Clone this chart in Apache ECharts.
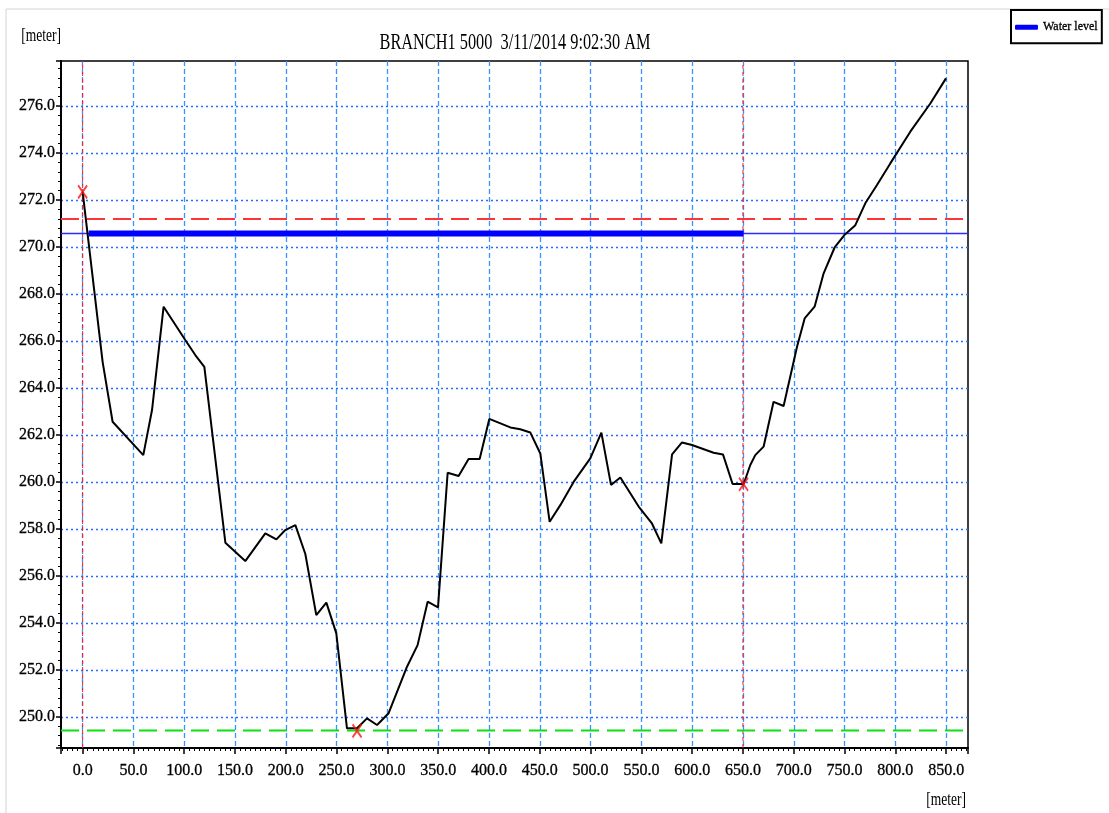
<!DOCTYPE html>
<html>
<head>
<meta charset="utf-8">
<title>BRANCH1 5000</title>
<script src="https://cdn.jsdelivr.net/npm/echarts@6/dist/echarts.min.js"></script>
<style>
    html, body { margin: 0; padding: 0; background: #fff; }
    #main { width: 1109px; height: 813px; }
</style>
</head>
<body>
<div id="main"></div>
<script>
// cross section, chainage [meter] / bed level [meter]
var chainage = [0, 19.7, 29.5, 59.7, 68.3, 79.7, 101, 110.9, 119.8, 140.5,
    160.1, 179.8, 190.7, 199.5, 209.4, 219.2, 230, 239.9, 249.7, 260.2,
    270.1, 279.9, 289.8, 301.2, 319.3, 329.7, 339.6, 349.8, 359.3, 370.1,
    379.9, 390.8, 400.3, 421, 430.8, 440.7, 450.5, 459.7, 470.2, 483.3,
    499.7, 510.6, 520.1, 529.3, 547.3, 560.4, 569.6, 580.2, 590, 599.8,
    621.1, 630.3, 639.8, 647.4, 650.6, 657.2, 662.1, 670.3, 680.1, 690,
    703.2, 710.7, 720.5, 729.4, 740.2, 749.8, 760.6, 770.4, 781.9, 795,
    814.7, 834.4, 849.8];
var elevation = [272.35, 265.1, 262.56, 261.14, 263.06, 267.46, 266.04, 265.4, 264.9, 257.41,
    256.63, 257.81, 257.55, 257.95, 258.16, 256.93, 254.33, 254.86, 253.55, 249.51,
    249.51, 249.93, 249.65, 250.15, 252.13, 253.05, 254.9, 254.66, 260.39, 260.25,
    260.97, 260.97, 262.68, 262.32, 262.24, 262.1, 261.21, 258.3, 259.01, 260.0,
    261.0, 262.1, 259.87, 260.19, 258.95, 258.23, 257.38, 261.17, 261.68, 261.57,
    261.24, 261.17, 259.91, 259.91, 259.9, 260.72, 261.14, 261.5, 263.41, 263.23,
    265.75, 266.96, 267.46, 268.88, 269.98, 270.51, 270.93, 271.86, 272.64, 273.56,
    274.91, 276.11, 277.18];

var waterLevel = 270.58;
var wetFrom = 6;
var wetTo = 650.6;
var maxLevel = 271.19;   // red dashed
var minLevel = 249.42;   // green dashed
var markerX = [0, 270.1, 650.6];
var markerY = [272.35, 249.4, 259.9];
var bankX = [0, 650];

var xMin = -21.3, xMax = 871.5;
var yMin = 248.67, yMax = 277.92;

var titleText = 'BRANCH1 5000  3/11/2014 9:02:30 AM';
var unitText = '[meter]';

function hline(y) {
    return [[xMin, y], [xMax, y]];
}
function vline(x) {
    return [[x, yMin], [x, yMax]];
}

window.onload = function () {
    var myChart = echarts.init(document.getElementById('main'));

    var profile = chainage.map(function (x, i) { return [x, elevation[i]]; });
    var markers = markerX.map(function (x, i) { return [x, markerY[i]]; });

    var serif = 'Liberation Serif';
    var labelStyle = {
        color: '#000', fontFamily: serif, fontSize: 16,
        textBorderColor: '#000', textBorderWidth: 0.3
    };

    var series = [
        {
            name: 'wl_full',
            type: 'line',
            data: hline(waterLevel),
            symbol: 'none',
            lineStyle: { color: '#2b2bff', width: 1.5 },
            z: 3
        },
        {
            name: 'Water level',
            type: 'line',
            data: [[wetFrom, waterLevel], [wetTo, waterLevel]],
            symbol: 'none',
            itemStyle: { color: '#0000ff' },
            lineStyle: { color: '#0000ff', width: 6 },
            z: 4
        },
        {
            name: 'max',
            type: 'line',
            data: hline(maxLevel),
            symbol: 'none',
            lineStyle: { color: '#ff3535', width: 2, type: [18, 8] },
            z: 3
        },
        {
            name: 'min',
            type: 'line',
            data: hline(minLevel),
            symbol: 'none',
            lineStyle: { color: '#10e010', width: 2, type: [18, 8] },
            z: 3
        }
    ];
    bankX.forEach(function (x, i) {
        series.push({
            name: 'bank' + i,
            type: 'line',
            data: vline(x),
            symbol: 'none',
            lineStyle: { color: '#ff1a1a', width: 1, type: [4, 3] },
            z: 2
        });
    });
    series.push({
        name: 'Profile',
        type: 'line',
        data: profile,
        symbol: 'none',
        lineStyle: { color: '#000', width: 2 },
        z: 5
    });
    series.push({
        name: 'markers',
        type: 'scatter',
        data: markers,
        symbol: 'path://M0,0 L10,14 M10,0 L0,14',
        symbolSize: [9, 13],
        itemStyle: { color: 'none', borderColor: '#ff1010', borderWidth: 2 },
        z: 6
    });

    myChart.setOption({
        backgroundColor: '#fff',
        animation: false,
        grid: {
            left: 61, top: 61, right: 141, bottom: 65,
            show: true, borderColor: '#000', borderWidth: 1.5
        },
        legend: {
            data: [{ name: 'Water level', icon: 'roundRect' }],
            left: 1011, top: 10,
            padding: [11, 4, 10, 4],
            itemWidth: 23, itemHeight: 5, itemGap: 4,
            borderColor: '#000', borderWidth: 2,
            textStyle: { fontFamily: serif, fontSize: 12, color: '#000', textBorderColor: '#000', textBorderWidth: 0.3 }
        },
        xAxis: {
            type: 'value',
            min: xMin, max: xMax,
            minInterval: 50, maxInterval: 50, splitNumber: 18,
            axisLine: { onZero: false, lineStyle: { color: '#000', width: 2 } },
            axisTick: { length: 6, lineStyle: { color: '#000', width: 1.5 } },
            minorTick: { show: true, splitNumber: 10, length: 3, lineStyle: { color: '#000', width: 1 } },
            axisLabel: Object.assign({
                margin: 15,
                showMinLabel: false, showMaxLabel: false,
                formatter: function (v) { return v.toFixed(1); }
            }, labelStyle),
            splitLine: {
                show: true, showMinLine: false, showMaxLine: false,
                lineStyle: { color: '#3793ff', type: [5, 3], width: 1.3 }
            }
        },
        yAxis: {
            type: 'value',
            min: yMin, max: yMax,
            minInterval: 2, maxInterval: 2, splitNumber: 15,
            axisLine: { onZero: false, lineStyle: { color: '#000', width: 2 } },
            axisTick: { length: 5, lineStyle: { color: '#000', width: 1.5 } },
            minorTick: { show: true, splitNumber: 5, length: 3, lineStyle: { color: '#000', width: 1 } },
            axisLabel: Object.assign({
                margin: 6,
                showMinLabel: false, showMaxLabel: false,
                formatter: function (v) { return v.toFixed(1); }
            }, labelStyle),
            splitLine: {
                show: true, showMinLine: false, showMaxLine: false,
                lineStyle: { color: '#1f6fff', type: [2, 3], width: 1.3 }
            }
        },
        graphic: [
            { type: 'line', shape: { x1: 6, y1: 9, x2: 1109, y2: 9 }, style: { stroke: '#d4d4d4', lineWidth: 1 } },
            { type: 'line', shape: { x1: 6, y1: 9, x2: 6, y2: 813 }, style: { stroke: '#d4d4d4', lineWidth: 1 } },
            {
                type: 'text', x: 515, y: 43, scaleX: 0.68,
                style: { text: titleText, font: '24px "Liberation Serif"', fill: '#000', textAlign: 'center', textVerticalAlign: 'middle' }
            },
            {
                type: 'text', x: 61, y: 36, scaleX: 0.75,
                style: { text: unitText, font: '18px "Liberation Serif"', fill: '#000', textAlign: 'right', textVerticalAlign: 'middle' }
            },
            {
                type: 'text', x: 966, y: 800, scaleX: 0.75,
                style: { text: unitText, font: '18px "Liberation Serif"', fill: '#000', textAlign: 'right', textVerticalAlign: 'middle' }
            }
        ],
        series: series
    });

    window.onresize = function () {
        myChart.resize();
    };
};
</script>
</body>
</html>
